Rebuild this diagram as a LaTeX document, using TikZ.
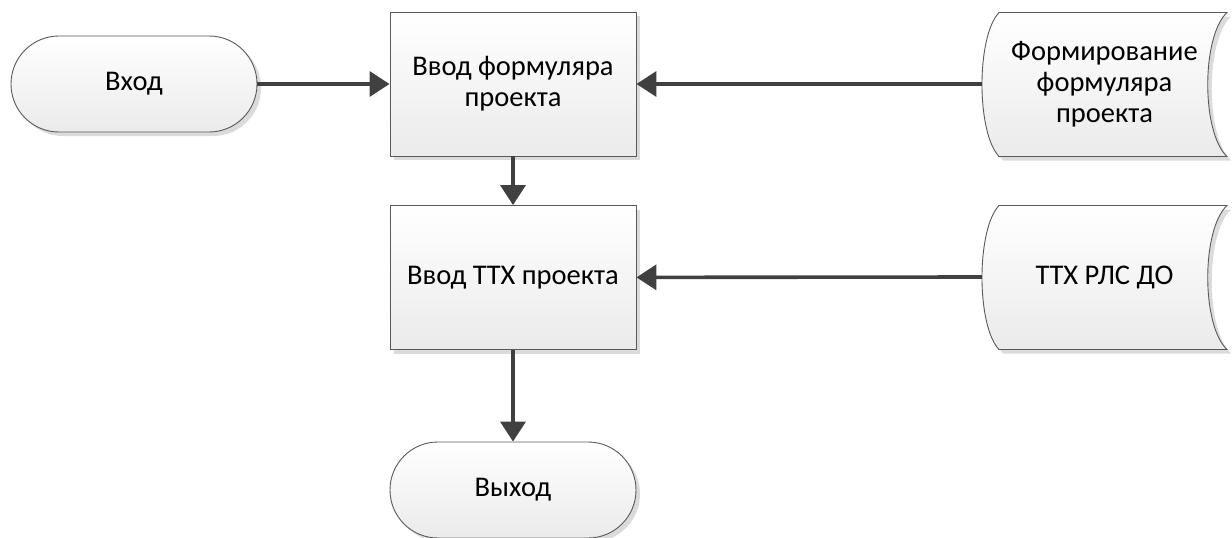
\documentclass[tikz,border=0pt]{standalone}
\usepackage{fontspec}
\setmainfont{Carlito}
\usetikzlibrary{arrows.meta,shadows}
\definecolor{arrowc}{HTML}{404040}
\definecolor{edgec}{HTML}{595959}
\tikzset{
  txt/.style={font=\fontsize{28.5}{31}\selectfont, align=center, text=black},
  procbox/.style={txt, draw=edgec, line width=0.9pt, top color=white, bottom color=gray!16,
    minimum width=246pt, minimum height=144pt, inner sep=0pt,
    drop shadow={shadow xshift=4pt, shadow yshift=-4pt, fill=gray!28, opacity=1}},
  termbox/.style={txt, draw=edgec, line width=0.9pt, top color=white, bottom color=gray!16,
    minimum width=246pt, minimum height=96pt, inner sep=0pt, rounded corners=47.9pt,
    drop shadow={shadow xshift=4pt, shadow yshift=-4pt, fill=gray!28, opacity=1}},
  ghost/.style={txt, minimum width=245pt, minimum height=143pt, inner sep=0pt},
  storefill/.style={draw=edgec, line width=0.9pt, top color=white, bottom color=gray!16},
  conn/.style={draw=arrowc, line width=3.6pt, -{Triangle[length=20pt,width=25pt]}},
}
\begin{document}
\begin{tikzpicture}[x=1pt,y=-1pt]
\useasboundingbox (0,0) rectangle (1232,538);
% stored data shapes (drawn first)
\foreach \yc in {84,277}{
  \fill[gray!28] (1003,\yc-67.5) -- (1231,\yc-67.5)
     .. controls (1205.3,\yc-43.5) and (1205.3,\yc+52.5) .. (1231,\yc+76.5)
     -- (1003,\yc+76.5)
     .. controls (980.3,\yc+52.5) and (980.3,\yc-43.5) .. cycle;
  \path[storefill] (999,\yc-71.5) -- (1227,\yc-71.5)
     .. controls (1201.3,\yc-47.5) and (1201.3,\yc+48.5) .. (1227,\yc+72.5)
     -- (999,\yc+72.5)
     .. controls (976.3,\yc+48.5) and (976.3,\yc-47.5) .. cycle;
}
\node[ghost] (s1) at (1104.5,84) {Формирование\\формуляра\\проекта};
\node[ghost] (s2) at (1104.5,277) {ТТХ РЛС ДО};
\node[termbox] (in) at (134,84) {Вход};
\node[procbox] (b1) at (513,84) {Ввод формуляра\\проекта};
\node[procbox] (b2) at (513,277.5) {Ввод ТТХ проекта};
\node[termbox] (out) at (513,490) {Выход};
\draw[conn] (in) -- (b1);
\draw[conn] (s1.west) -- (b1);
\draw[conn] (s2.west) -- (b2);
\draw[conn] (b1) -- (b2);
\draw[conn] (b2) -- (out);
\end{tikzpicture}
\end{document}
